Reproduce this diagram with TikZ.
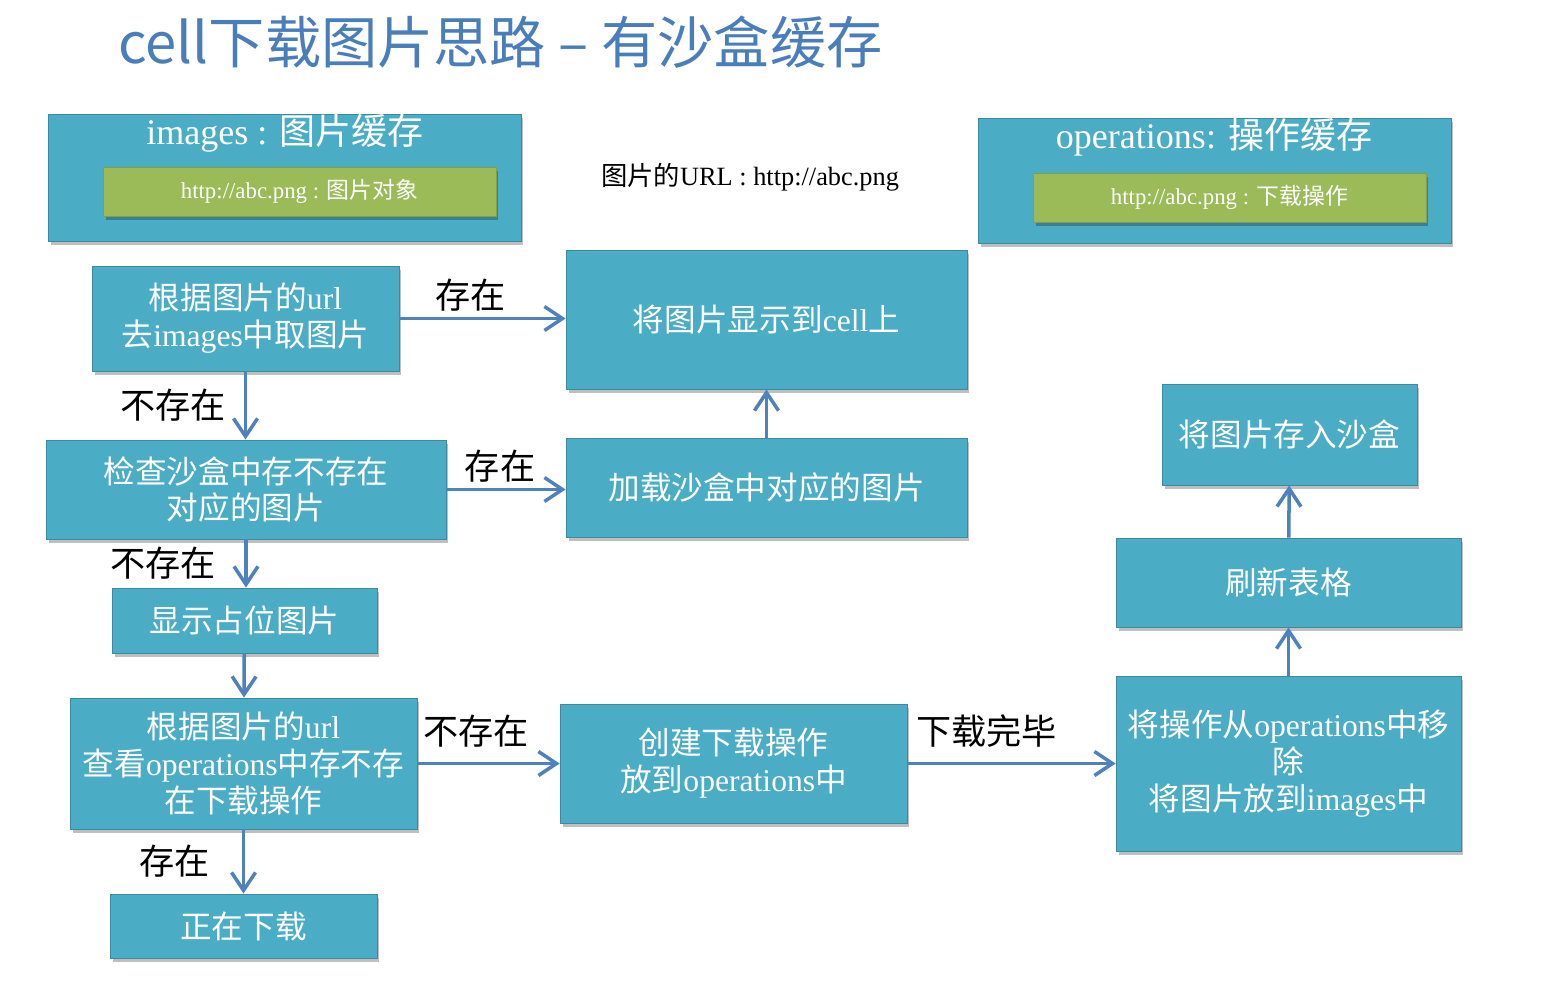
\documentclass[tikz,border=0pt]{standalone}
\usepackage{fontspec}
\setmainfont{Liberation Serif}
\newfontfamily\zhfont{Noto Sans CJK SC}
\newcommand{\zh}[1]{{\zhfont #1}}
\usetikzlibrary{arrows.meta, shadows}
\definecolor{caixa}{RGB}{75,172,198}
\definecolor{verde}{RGB}{155,187,89}
\definecolor{azul}{RGB}{79,129,189}
\definecolor{titulo}{RGB}{74,126,187}
\tikzset{%
    >={Straight Barb[length=3.6mm, width=4.8mm]},
    sombra/.style   = {drop shadow={shadow xshift=0.5mm, shadow yshift=-0.8mm,
                       fill=black, opacity=0.25}},
    bloco/.style    = {rectangle, draw=caixa!80!black, line width=0.5pt, fill=caixa,
                       text=white, align=center, inner sep=0pt, sombra,
                       font=\fontsize{18}{21}\selectfont},
    cache/.style    = {bloco, font=\fontsize{20.5}{24}\selectfont},
    entrada/.style  = {rectangle, draw=verde!85!black, line width=0.5pt, fill=verde,
                       text=white, inner sep=0pt, sombra,
                       minimum width=7.86cm, minimum height=0.98cm,
                       font=\fontsize{13}{15}\selectfont},
    rotulo/.style   = {text=black, font=\zhfont\fontsize{20}{24}\selectfont},
    seta/.style     = {->, draw=azul, line width=2pt},
}

\begin{document}
\begin{tikzpicture}[x=0.02cm, y=-0.02cm]
    \fill[white] (0,0) rectangle (1554,984);
    \useasboundingbox (0,0) rectangle (1554,984);

    \node (tit) [anchor=west, text=titulo, inner sep=0pt,
                 font=\zhfont\fontsize{32}{36}\selectfont] at (118,42)
                 {cell下载图片思路 – 有沙盒缓存};

    % caches
    \node (imgs)  [cache, minimum width=9.46cm, minimum height=2.54cm] at (284.5,177.5) {};
    \node (imgst) [text=white, font=\fontsize{20.5}{24}\selectfont] at (285,133)
                  {images : \zh{图片缓存}};
    \node (imgse) [entrada] at (299.5,191.5) {http://abc.png : \zh{图片对象}};
    \node (ops)   [cache, minimum width=9.46cm, minimum height=2.5cm] at (1214.5,180.5) {};
    \node (opst)  [text=white, font=\fontsize{20.5}{24}\selectfont] at (1214,137)
                  {operations: \zh{操作缓存}};
    \node (opse)  [entrada] at (1229.5,197.5) {http://abc.png : \zh{下载操作}};
    \node (url)   [font=\fontsize{15}{18}\selectfont] at (750,177)
                  {\zh{图片的}URL : http://abc.png};

    % fluxo
    \node (busca) [bloco, minimum width=6.14cm, minimum height=2.1cm]  at (245.5,318.5)
                  {\zh{根据图片的}url\\\zh{去}images\zh{中取图片}};
    \node (exibe) [bloco, minimum width=8.02cm, minimum height=2.78cm] at (766.5,319.5)
                  {\zh{将图片显示到}cell\zh{上}};
    \node (sand)  [bloco, minimum width=8cm, minimum height=1.98cm]    at (246,489.5)
                  {\zh{检查沙盒中存不存在}\\\zh{对应的图片}};
    \node (carr)  [bloco, minimum width=8.02cm, minimum height=1.98cm] at (766.5,487.5)
                  {\zh{加载沙盒中对应的图片}};
    \node (plac)  [bloco, minimum width=5.3cm, minimum height=1.3cm]   at (244.5,620.5)
                  {\zh{显示占位图片}};
    \node (oper)  [bloco, minimum width=6.94cm, minimum height=2.62cm] at (243.5,763.5)
                  {\zh{根据图片的}url\\\zh{查看}operations\zh{中存不存}\\\zh{在下载操作}};
    \node (baix)  [bloco, minimum width=5.34cm, minimum height=1.28cm] at (243.5,926)
                  {\zh{正在下载}};
    \node (cria)  [bloco, minimum width=6.94cm, minimum height=2.38cm] at (733.5,763.5)
                  {\zh{创建下载操作}\\\zh{放到}operations\zh{中}};
    \node (remo)  [bloco, minimum width=6.9cm, minimum height=3.5cm]   at (1288.5,763.5)
                  {\zh{将操作从}operations\zh{中移}\\\zh{除}\\\zh{将图片放到}images\zh{中}};
    \node (atua)  [bloco, minimum width=6.9cm, minimum height=1.78cm]  at (1288.5,582.5)
                  {\zh{刷新表格}};
    \node (salva) [bloco, minimum width=5.1cm, minimum height=2.02cm]  at (1289.5,434.5)
                  {\zh{将图片存入沙盒}};

    \draw[seta] (busca.east) -- node[rotulo, above, pos=0.43] {存在} (busca.east -| exibe.west);
    \draw[seta] (busca) -- node[rotulo, left=7pt] {不存在} (busca |- sand.north);
    \draw[seta] (sand.east) -- node[rotulo, above, pos=0.45] {存在} (sand.east -| carr.west);
    \draw[seta] (carr) -- (exibe);
    \draw[seta] (sand.south) -- node[rotulo, left=13pt] {不存在} (sand.south |- plac.north);
    \draw[seta] (plac) -- (oper);
    \draw[seta] (oper) -- node[rotulo, left=15pt] {存在} (baix);
    \draw[seta] (oper) -- node[rotulo, above=5pt, pos=0.41] {不存在} (cria);
    \draw[seta] (cria) -- node[rotulo, above=5pt, pos=0.38] {下载完毕} (remo);
    \draw[seta] (remo) -- (atua);
    \draw[seta] (atua) -- (salva);
\end{tikzpicture}
\end{document}
